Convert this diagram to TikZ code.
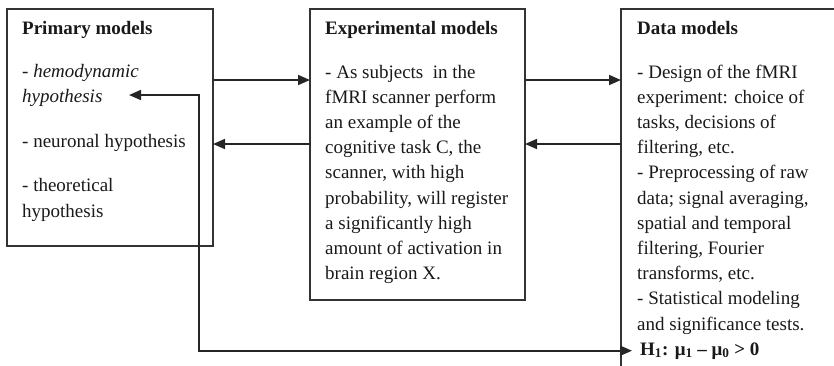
\documentclass[tikz,border=0pt]{standalone}
\usepackage{fontspec}
\setmainfont{Liberation Serif}
\usepackage{tikz}
\usetikzlibrary{positioning,calc,arrows.meta}

\begin{document}
\begin{tikzpicture}[x=1pt,y=-1pt,
    box/.style={draw=black!80,line width=1.8pt,anchor=north west,inner sep=0pt,outer sep=0pt},
    txt/.style={anchor=base west,inner sep=0pt,align=left,font=\fontsize{19}{25.2}\selectfont,text=black!90},
    ttl/.style={txt,font=\fontsize{19}{25.2}\selectfont\bfseries},
    arr/.style={line width=1.8pt,draw=black!85,-{Triangle[length=12pt,width=10pt]}},
    fb/.style={arr,{Triangle[length=12pt,width=10pt]}-{Triangle[length=12pt,width=10pt]}}]
  \clip (0,0) rectangle (834,365);
  \node[box,minimum width=206,minimum height=237] (Prim) at (7,9) {};
  \node[box,minimum width=215,minimum height=291] (Expe) at (310,9) {};
  \node[box,minimum width=230,minimum height=380] (Data) at (621,9) {};

  \node[ttl] (PrimT) at (22,34) {Primary models};
  \node[txt] (PrimX) at (22,217) {- \textit{hemodynamic}\\\textit{hypothesis}\\[20pt]- neuronal hypothesis\\[19pt]- theoretical\\hypothesis};
  \node[ttl] (ExpeT) at (325,34) {Experimental models};
  \node[txt] (ExpeX) at (325,279.6) {- As subjects\ \ in the\\fMRI scanner perform\\an example of the\\cognitive task C, the\\scanner, with high\\probability, will register\\a significantly high\\amount of activation in\\brain region X.};
  \node[ttl] (DataT) at (637,34) {Data models};
  \node[txt] (DataX) at (637,330) {- Design of the fMRI\\experiment: choice of\\tasks, decisions of\\filtering, etc.\\- Preprocessing of raw\\data; signal averaging,\\spatial and temporal\\filtering, Fourier\\transforms, etc.\\- Statistical modeling\\and significance tests.};
  \node[ttl,inner xsep=8pt] (Hyp) at (632,355) {H\textsubscript{1}: μ\textsubscript{1} – μ\textsubscript{0} > 0};

  \coordinate (r1) at (0,80);
  \coordinate (r2) at (0,144);
  \draw[arr] (Prim.east |- r1) -- (Expe.west |- r1);
  \draw[arr] (Expe.west |- r2) -- (Prim.east |- r2);
  \draw[arr] (Expe.east |- r1) -- (Data.west |- r1);
  \draw[arr] (Data.west |- r2) -- (Expe.east |- r2);

  \coordinate (tip) at (129,95);
  \coordinate (bend) at (199,0);
  \draw[fb] (tip) -- (tip -| bend) |- (Hyp.west);
\end{tikzpicture}
\end{document}
